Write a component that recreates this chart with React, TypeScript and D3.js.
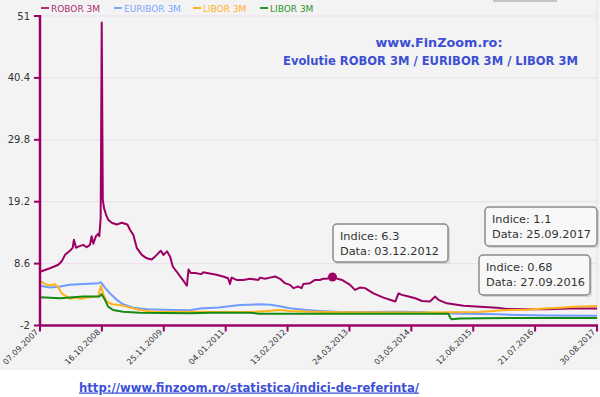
import { useEffect, useRef } from 'react';
import * as d3 from 'd3';

type Pt = [string, number];

const W = 600;
const H = 397;
const M = { top: 16, right: 3, bottom: 71.5, left: 40 };
const FONT = 'Verdana, "DejaVu Sans", sans-serif';

const X_TICKS = [
  '2007-09-07', '2008-10-16', '2009-11-25', '2011-01-04', '2012-02-13',
  '2013-03-24', '2014-05-03', '2015-06-12', '2016-07-21', '2017-08-30',
];
const Y_TICKS = [-2, 8.6, 19.2, 29.8, 40.4, 51];

const ROBOR: Pt[] = [
  ['2007-09-07', 7.2], ['2007-11-11', 7.8], ['2008-01-05', 8.4], ['2008-01-27', 9.0],
  ['2008-02-18', 10.1], ['2008-03-21', 10.8], ['2008-04-08', 11.3], ['2008-04-16', 12.7],
  ['2008-04-30', 11.3], ['2008-05-15', 11.5], ['2008-06-16', 11.8], ['2008-07-08', 11.4],
  ['2008-07-30', 11.8], ['2008-08-10', 13.3], ['2008-08-21', 12.0], ['2008-09-07', 13.3],
  ['2008-09-22', 13.7], ['2008-09-29', 13.3], ['2008-10-08', 16.4], ['2008-10-15', 49.9],
  ['2008-10-22', 19.5], ['2008-10-30', 18.1], ['2008-11-12', 17.0], ['2008-11-27', 16.1],
  ['2008-12-19', 15.6], ['2009-01-21', 15.3], ['2009-02-23', 15.6], ['2009-04-01', 15.3],
  ['2009-04-18', 14.4], ['2009-05-10', 13.5], ['2009-06-01', 11.3], ['2009-07-04', 10.1],
  ['2009-08-06', 9.5], ['2009-09-07', 9.3], ['2009-09-29', 9.8], ['2009-10-21', 10.4],
  ['2009-11-06', 10.8], ['2009-11-23', 10.1], ['2009-12-16', 10.7], ['2010-01-05', 9.8],
  ['2010-01-23', 8.1], ['2010-02-18', 7.2], ['2010-03-12', 6.4], ['2010-04-07', 5.5],
  ['2010-04-25', 4.8], ['2010-05-06', 7.6], ['2010-05-21', 7.0], ['2010-06-17', 7.0],
  ['2010-07-29', 6.8], ['2010-08-09', 7.1], ['2010-11-05', 6.7], ['2010-12-18', 6.4],
  ['2011-01-20', 6.1], ['2011-02-01', 5.1], ['2011-02-12', 6.2], ['2011-03-16', 5.8],
  ['2011-04-29', 5.8], ['2011-06-12', 6.0], ['2011-08-06', 5.8], ['2011-08-17', 6.2],
  ['2011-09-18', 6.0], ['2011-10-21', 6.2], ['2011-11-23', 6.4], ['2011-12-26', 6.0],
  ['2012-01-27', 5.25], ['2012-02-29', 4.96], ['2012-03-22', 4.4], ['2012-04-23', 4.67],
  ['2012-05-15', 4.4], ['2012-05-26', 5.1], ['2012-07-09', 5.25], ['2012-08-11', 5.8],
  ['2012-09-12', 5.8], ['2012-10-04', 6.0], ['2012-10-26', 6.0], ['2012-12-03', 6.3],
  ['2012-12-10', 6.2], ['2013-02-03', 5.8], ['2013-03-28', 4.96], ['2013-04-29', 4.1],
  ['2013-05-31', 4.5], ['2013-07-04', 4.4], ['2013-08-28', 3.5], ['2013-11-02', 2.78],
  ['2014-01-18', 2.1], ['2014-02-08', 3.5], ['2014-03-02', 3.24], ['2014-04-15', 2.95],
  ['2014-05-29', 2.67], ['2014-07-12', 2.2], ['2014-09-02', 2.1], ['2014-10-05', 2.95],
  ['2014-10-27', 2.4], ['2014-12-21', 1.8], ['2015-04-10', 1.4], ['2015-07-26', 1.23],
  ['2015-11-13', 1.06], ['2016-01-17', 0.83], ['2016-05-06', 0.78], ['2016-10-07', 0.8],
  ['2017-03-08', 0.9], ['2017-08-30', 0.9],
];

const EURIBOR: Pt[] = [
  ['2007-09-07', 4.8], ['2007-11-11', 4.5], ['2008-01-16', 4.67], ['2008-03-21', 4.96],
  ['2008-06-16', 5.1], ['2008-09-22', 5.25], ['2008-10-10', 5.4], ['2008-11-05', 4.5],
  ['2008-12-08', 3.5], ['2009-01-21', 2.4], ['2009-03-04', 1.64], ['2009-05-08', 1.06],
  ['2009-08-08', 0.78], ['2010-01-23', 0.66], ['2010-05-16', 0.62], ['2010-07-20', 0.9],
  ['2010-11-20', 1.1], ['2011-04-08', 1.5], ['2011-08-17', 1.64], ['2011-10-21', 1.55],
  ['2011-12-04', 1.4], ['2012-02-29', 0.95], ['2012-06-17', 0.66], ['2012-09-12', 0.5],
  ['2013-01-24', 0.3], ['2013-07-04', 0.3], ['2014-02-18', 0.35], ['2014-06-29', 0.3],
  ['2014-10-15', 0.1], ['2015-04-10', 0.0], ['2015-11-13', -0.08], ['2016-04-13', -0.2],
  ['2016-10-07', -0.3], ['2017-08-30', -0.33],
];

const LIBOR_USD: Pt[] = [
  ['2007-09-07', 5.65], ['2007-10-10', 5.08], ['2007-11-11', 4.9], ['2007-12-14', 5.08],
  ['2008-01-05', 4.5], ['2008-01-27', 3.5], ['2008-02-29', 2.95], ['2008-03-21', 2.55],
  ['2008-05-04', 2.78], ['2008-05-26', 2.55], ['2008-07-08', 2.78], ['2008-09-22', 2.95],
  ['2008-10-10', 4.8], ['2008-10-27', 3.2], ['2008-11-18', 2.1], ['2008-12-21', 1.64],
  ['2009-02-12', 1.5], ['2009-04-18', 1.06], ['2009-06-22', 0.66], ['2009-09-14', 0.37],
  ['2010-05-16', 0.35], ['2010-12-01', 0.3], ['2011-06-20', 0.3], ['2011-09-30', 0.5],
  ['2011-12-26', 0.66], ['2012-02-29', 0.5], ['2012-07-26', 0.37], ['2013-01-24', 0.27],
  ['2014-06-29', 0.23], ['2015-07-26', 0.3], ['2015-12-20', 0.62], ['2016-05-16', 0.7],
  ['2016-08-22', 0.85], ['2016-12-31', 1.05], ['2017-04-08', 1.2], ['2017-08-30', 1.33],
];

const LIBOR_CHF: Pt[] = [
  ['2007-09-07', 2.85], ['2008-01-16', 2.67], ['2008-06-16', 2.95], ['2008-09-29', 2.95],
  ['2008-10-14', 3.36], ['2008-11-05', 2.4], ['2008-11-26', 1.23], ['2008-12-28', 0.66],
  ['2009-03-04', 0.37], ['2009-06-22', 0.2], ['2010-05-16', 0.1], ['2010-09-23', 0.17],
  ['2011-06-12', 0.17], ['2011-08-17', 0.03], ['2014-12-31', 0.0], ['2015-01-15', -0.77],
  ['2015-01-25', -0.95], ['2015-03-17', -0.8], ['2016-04-13', -0.72], ['2017-08-30', -0.7],
];

const SERIES = [
  { name: 'ROBOR 3M', color: '#9c0063', legend: '#a8306f', data: ROBOR },
  { name: 'EURIBOR 3M', color: '#6e9dff', legend: '#7aa6ff', data: EURIBOR },
  { name: 'LIBOR 3M', color: '#ffb21c', legend: '#ffb11f', data: LIBOR_USD },
  { name: 'LIBOR 3M', color: '#158a15', legend: '#2a962a', data: LIBOR_CHF },
];
const LEGEND_X = [41, 114, 193, 260];

const MARKER: Pt = ['2012-12-03', 6.3];
const TOOLTIPS = [
  { lines: ['Indice: 6.3', 'Data: 03.12.2012'], box: [333, 224, 115, 38] },
  { lines: ['Indice: 1.1', 'Data: 25.09.2017'], box: [485, 207, 112, 39] },
  { lines: ['Indice: 0.68', 'Data: 27.09.2016'], box: [479, 255, 111, 40] },
];

const parse = d3.utcParse('%Y-%m-%d');

export default function App() {
  const svgRef = useRef<SVGSVGElement>(null);

  useEffect(() => {
    if (!svgRef.current) return;
    const svg = d3.select(svgRef.current);
    svg.selectAll('*').remove();

    const x = d3.scaleUtc(
      [parse(X_TICKS[0])!, parse(X_TICKS[X_TICKS.length - 1])!],
      [M.left, W - M.right],
    );
    const y = d3.scaleLinear([-2, 51], [H - M.bottom, M.top]);

    // backgrounds
    svg.append('rect').attr('width', W).attr('height', H).attr('fill', '#ffffff');
    svg.append('rect').attr('width', W).attr('height', 370).attr('fill', '#f3f3f3');
    svg.append('rect').attr('x', 493).attr('y', 0).attr('width', 64).attr('height', 2).attr('fill', '#c4c4c4');

    // grid
    Y_TICKS.forEach(v => {
      svg.append('line')
        .attr('x1', M.left).attr('x2', W - M.right)
        .attr('y1', y(v)).attr('y2', y(v))
        .attr('stroke', '#ecdcef').attr('stroke-width', 1);
    });
    svg.append('line')
      .attr('x1', W - M.right).attr('x2', W - M.right)
      .attr('y1', 0).attr('y2', y(-2))
      .attr('stroke', '#ecdcef').attr('stroke-width', 1);

    // series lines
    SERIES.forEach(s => {
      const line = d3.line<Pt>()
        .x(d => x(parse(d[0])!))
        .y(d => y(d[1]));
      svg.append('path')
        .attr('d', line(s.data) ?? '')
        .attr('fill', 'none')
        .attr('stroke', s.color)
        .attr('stroke-width', 2)
        .attr('stroke-linejoin', 'round');
    });

    // axes
    const axisColor = '#990066';
    svg.append('line')
      .attr('x1', M.left).attr('x2', M.left)
      .attr('y1', y(51) - 1).attr('y2', y(-2) + 1)
      .attr('stroke', axisColor).attr('stroke-width', 2.5);
    svg.append('line')
      .attr('x1', M.left).attr('x2', W - M.right + 1)
      .attr('y1', y(-2)).attr('y2', y(-2))
      .attr('stroke', axisColor).attr('stroke-width', 2.5);

    Y_TICKS.forEach(v => {
      svg.append('line')
        .attr('x1', M.left - 6).attr('x2', M.left)
        .attr('y1', y(v)).attr('y2', y(v))
        .attr('stroke', axisColor).attr('stroke-width', 2);
      svg.append('text')
        .attr('x', 30).attr('y', y(v) + 3.5)
        .attr('text-anchor', 'end')
        .attr('font-family', FONT).attr('font-size', 10)
        .attr('fill', '#333')
        .text(String(v));
    });

    X_TICKS.forEach(t => {
      const px = x(parse(t)!);
      svg.append('line')
        .attr('x1', px).attr('x2', px)
        .attr('y1', y(-2)).attr('y2', y(-2) + 6)
        .attr('stroke', axisColor).attr('stroke-width', 2);
      const [yy, mm, dd] = t.split('-');
      svg.append('text')
        .attr('transform', `translate(${px - 1},${y(-2) + 7}) rotate(-45)`)
        .attr('text-anchor', 'end')
        .attr('font-family', FONT).attr('font-size', 8.1)
        .attr('fill', '#333')
        .text(`${dd}.${mm}.${yy}`);
    });

    // marker
    svg.append('circle')
      .attr('cx', x(parse(MARKER[0])!)).attr('cy', y(MARKER[1]))
      .attr('r', 4.5).attr('fill', '#9c0063');

    // tooltips
    TOOLTIPS.forEach(tt => {
      const [bx, by, bw, bh] = tt.box;
      svg.append('rect')
        .attr('x', bx + 2).attr('y', by + 2).attr('width', bw).attr('height', bh)
        .attr('rx', 4).attr('fill', '#c8c8c8').attr('opacity', 0.7);
      svg.append('rect')
        .attr('x', bx).attr('y', by).attr('width', bw).attr('height', bh)
        .attr('rx', 4).attr('fill', '#f8f8f8')
        .attr('stroke', '#8a8a8a').attr('stroke-width', 1.5);
      tt.lines.forEach((l, i) => {
        svg.append('text')
          .attr('x', bx + 7).attr('y', by + 15.5 + i * 15)
          .attr('font-family', FONT).attr('font-size', 11.3)
          .attr('fill', '#333')
          .text(l);
      });
    });

    // legend
    SERIES.forEach((s, i) => {
      const lx = LEGEND_X[i];
      svg.append('line')
        .attr('x1', lx).attr('x2', lx + 8)
        .attr('y1', 8).attr('y2', 8)
        .attr('stroke', s.legend).attr('stroke-width', 2);
      svg.append('text')
        .attr('x', lx + 10).attr('y', 11.5)
        .attr('font-family', FONT).attr('font-size', 9)
        .attr('fill', s.legend)
        .text(s.name);
    });

    // title
    svg.append('text')
      .attr('x', 439).attr('y', 47)
      .attr('text-anchor', 'middle')
      .attr('font-family', FONT).attr('font-size', 12.8).attr('font-weight', 'bold')
      .attr('fill', '#3c4fd2')
      .text('www.FinZoom.ro:');
    svg.append('text')
      .attr('x', 283).attr('y', 65)
      .attr('textLength', 295).attr('lengthAdjust', 'spacingAndGlyphs')
      .attr('font-family', FONT).attr('font-size', 12.2).attr('font-weight', 'bold')
      .attr('fill', '#3c4fd2')
      .text('Evolutie ROBOR 3M / EURIBOR 3M / LIBOR 3M');

    // footer link
    svg.append('text')
      .attr('x', 79).attr('y', 391.5)
      .attr('textLength', 340).attr('lengthAdjust', 'spacingAndGlyphs')
      .attr('font-family', FONT).attr('font-size', 12.5).attr('font-weight', 'bold')
      .attr('fill', '#3d50d8')
      .attr('text-decoration', 'underline')
      .text('http://www.finzoom.ro/statistica/indici-de-referinta/');
  }, []);

  return (
    <svg
      ref={svgRef}
      width={W}
      height={H}
      style={{ position: 'absolute', left: 0, top: 0, display: 'block' }}
    />
  );
}
